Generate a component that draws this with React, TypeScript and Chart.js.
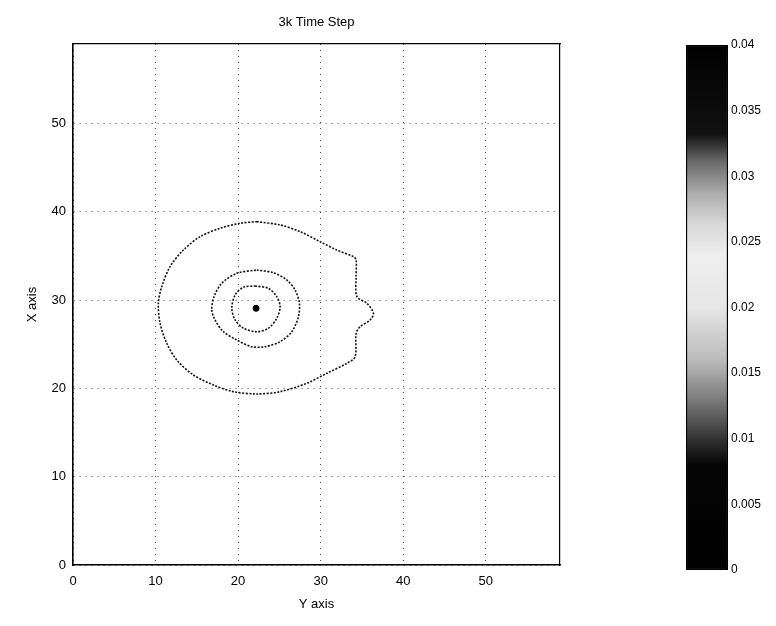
import { useEffect, useRef } from "react";
import { Chart, registerables } from "chart.js";

Chart.register(...registerables);

const titleText = "3k Time Step";
const xAxisLabel = "Y axis";
const yAxisLabel = "X axis";
const axisMin = 0;
const axisMax = 59;
const axisStep = 10;

// outer contour (data units)
const outerX = [22.27, 25.09, 27.52, 29.94, 31.96, 33.98, 34.3, 34.3, 34.39, 35.6, 36.4, 36.0, 34.79, 34.3, 34.18, 33.18, 30.75, 28.33, 25.09, 22.27, 19.43, 17.01, 14.58, 12.57, 11.36, 10.55, 10.34, 10.75, 11.76, 13.37, 15.39, 17.82, 20.24];
const outerY = [38.88, 38.51, 37.75, 36.61, 35.67, 34.92, 34.54, 32.65, 30.39, 29.64, 28.51, 27.75, 26.99, 26.24, 23.59, 22.84, 21.71, 20.58, 19.63, 19.37, 19.63, 20.39, 21.52, 23.22, 25.11, 27.37, 29.64, 31.52, 33.78, 35.67, 37.18, 38.13, 38.7];

// middle contour
const middleX = [22.27, 24.28, 25.9, 26.91, 27.43, 27.31, 26.51, 25.09, 23.27, 21.66, 19.84, 18.22, 17.21, 16.81, 17.09, 18.02, 19.84];
const middleY = [33.41, 33.1, 32.28, 31.14, 29.64, 28.12, 26.42, 25.29, 24.72, 24.72, 25.48, 26.42, 27.75, 28.88, 30.39, 31.9, 33.03];

// inner contour
const innerX = [22.06, 23.68, 24.69, 25.09, 24.69, 23.68, 22.27, 20.65, 19.64, 19.24, 19.64, 20.65];
const innerY = [31.6, 31.33, 30.39, 29.25, 27.94, 26.81, 26.42, 26.81, 27.75, 29.07, 30.58, 31.45];

// peak
const peakX = [22.18];
const peakY = [29.07];

// colorbar
const colorbarMin = 0;
const colorbarMax = 0.04;
const colorbarStep = 0.005;

const FONT = "'Liberation Sans', Arial, sans-serif";

function closedPoints(xs: number[], ys: number[]) {
  const pts = xs.map((x, i) => ({ x, y: ys[i] }));
  pts.push({ x: xs[0], y: ys[0] });
  return pts;
}

function contourDataset(label: string, xs: number[], ys: number[]) {
  return {
    label,
    data: closedPoints(xs, ys),
    showLine: true,
    borderColor: "#111",
    borderWidth: 1.6,
    borderDash: [2, 1.5],
    pointRadius: 0,
    tension: 0.3,
    fill: false,
  };
}

export default function App() {
  const mainRef = useRef<HTMLCanvasElement | null>(null);
  const barRef = useRef<HTMLCanvasElement | null>(null);

  useEffect(() => {
    if (!mainRef.current || !barRef.current) return;
    Chart.defaults.font.family = FONT;
    Chart.defaults.color = "#000";

    const main = new Chart(mainRef.current, {
      type: "scatter",
      data: {
        datasets: [
          contourDataset("outer", outerX, outerY),
          contourDataset("middle", middleX, middleY),
          contourDataset("inner", innerX, innerY),
          {
            label: "peak",
            data: peakX.map((x, i) => ({ x, y: peakY[i] })),
            pointRadius: 3,
            pointBackgroundColor: "#000",
            pointBorderColor: "#000",
            showLine: false,
          } as any,
        ],
      },
      options: {
        responsive: false,
        animation: false,
        events: [],
        layout: { padding: { left: 0, right: 48, top: 0, bottom: 0 } },
        plugins: { legend: { display: false }, tooltip: { enabled: false }, title: { display: false } },
        scales: {
          x: {
            type: "linear",
            position: "bottom",
            min: axisMin,
            max: axisMax,
            ticks: { stepSize: axisStep, includeBounds: false, padding: 9, font: { size: 13 }, color: "#000" },
            grid: { color: "rgba(0,0,0,0.7)", lineWidth: 1, drawTicks: false },
            border: { display: true, color: "#000", width: 1.6, dash: [1, 5] },
            title: { display: true, text: xAxisLabel, font: { size: 13 }, padding: { top: 0, bottom: 6 }, color: "#000" },
            afterFit: (s: any) => { s.height = 53; },
          },
          x2: {
            type: "linear",
            position: "top",
            min: axisMin,
            max: axisMax,
            ticks: { display: false },
            grid: { display: false, drawTicks: false },
            border: { display: true, color: "#000", width: 1.2 },
            title: { display: true, text: titleText, font: { size: 13 }, padding: { top: 7, bottom: 0 }, color: "#000" },
            afterFit: (s: any) => { s.height = 36; },
          },
          y: {
            type: "linear",
            position: "left",
            min: axisMin,
            max: axisMax,
            ticks: { stepSize: axisStep, includeBounds: false, padding: 7, font: { size: 13 }, color: "#000" },
            grid: { color: "rgba(0,0,0,0.7)", lineWidth: 1, drawTicks: false },
            border: { display: true, color: "#000", width: 1.6, dash: [1, 5] },
            title: { display: true, text: yAxisLabel, font: { size: 13 }, padding: { top: 17, bottom: 0 }, color: "#000" },
            afterFit: (s: any) => { s.width = 65; },
          },
          y2: {
            type: "linear",
            position: "right",
            min: axisMin,
            max: axisMax,
            ticks: { display: false },
            grid: { display: false, drawTicks: false },
            border: { display: true, color: "#000", width: 1.2 },
            afterFit: (s: any) => { s.width = 0; },
          },
        },
      } as any,
    });

    const bar = new Chart(barRef.current, {
      type: "bar",
      data: {
        labels: ["level"],
        datasets: [
          {
            data: [[colorbarMin, colorbarMax]] as any,
            backgroundColor: (ctx: any) => {
              const chart = ctx.chart;
              const area = chart.chartArea;
              if (!area) return "#000";
              const g = chart.ctx.createLinearGradient(0, area.bottom, 0, area.top);
              g.addColorStop(0, "#000");
              g.addColorStop(0.2, "#050505");
              g.addColorStop(0.25, "#333");
              g.addColorStop(0.32, "#777");
              g.addColorStop(0.4, "#bbb");
              g.addColorStop(0.5, "#e6e6e6");
              g.addColorStop(0.6, "#eee");
              g.addColorStop(0.66, "#d8d8d8");
              g.addColorStop(0.72, "#aaa");
              g.addColorStop(0.78, "#666");
              g.addColorStop(0.83, "#111");
              g.addColorStop(1, "#000");
              return g;
            },
            borderColor: "#000",
            borderWidth: 1.5,
            borderSkipped: false,
            barPercentage: 1,
            categoryPercentage: 1,
          },
        ],
      },
      options: {
        responsive: false,
        animation: false,
        events: [],
        layout: { padding: { left: 6, right: 0, top: 37, bottom: 48 } },
        plugins: { legend: { display: false }, tooltip: { enabled: false } },
        scales: {
          x: { display: false },
          y: {
            position: "right",
            min: colorbarMin,
            max: colorbarMax,
            ticks: {
              stepSize: colorbarStep,
              padding: 3,
              font: { size: 12 },
              color: "#000",
              callback: (v: any) => parseFloat(Number(v).toFixed(3)).toString(),
            },
            grid: { display: false, drawTicks: false },
            border: { display: false },
            afterFit: (s: any) => { s.width = 40; },
          },
        },
      } as any,
    });

    return () => {
      main.destroy();
      bar.destroy();
    };
  }, []);

  return (
    <div style={{ position: "relative", width: 760, height: 610 }}>
      <canvas ref={mainRef} width={600} height={610} style={{ position: "absolute", left: 0, top: 0, width: 600, height: 610 }} />
      <canvas ref={barRef} width={88} height={610} style={{ position: "absolute", left: 672, top: 0, width: 88, height: 610 }} />
    </div>
  );
}
